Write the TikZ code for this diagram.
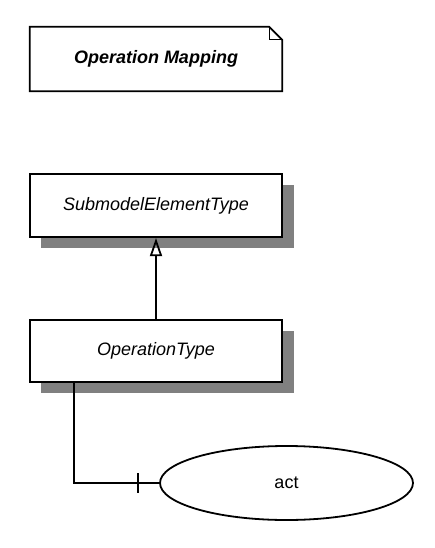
\documentclass[tikz,border=0pt]{standalone}
\usepackage{fontspec}
\setmainfont{Liberation Sans}
\usetikzlibrary{arrows.meta,shapes.geometric,calc}
\begin{document}
\begin{tikzpicture}[x=1pt,y=-1pt,
  cls/.style={draw=black,line width=2.2pt,fill=white,minimum width=252pt,minimum height=63pt,inner sep=0pt,font=\fontsize{18}{21}\selectfont\itshape},
  conn/.style={draw=black,line width=2.2pt},
  lconn/.style={draw=black,line width=1.8pt}]
\useasboundingbox (0,0) rectangle (435,548);
% note
\node[minimum width=252pt,minimum height=64pt,inner sep=0pt,font=\fontsize{18}{21}\selectfont\bfseries\itshape] (note) at (156,59) {Operation Mapping};
\draw[line width=1.8pt] (note.north west) -- ($(note.north east)+(-13,0)$) -- ($(note.north east)+(0,13)$) -- (note.south east) -- (note.south west) -- cycle;
\draw[line width=1pt] ($(note.north east)+(-13,0)$) -- ($(note.north east)+(-13,13)$) -- ($(note.north east)+(0,13)$);
% shadows
\fill[black!50] (41,185) rectangle (294,248);
\fill[black!50] (41,331) rectangle (294,393);
% classes
\node[cls] (sub) at (156,205.5) {SubmodelElementType};
\node[cls,minimum height=62pt] (op) at (156,351) {OperationType};
% generalization
\draw[conn,-{Triangle[open,length=18pt,width=12pt,line width=1.8pt]}] (op.north) -- (sub.south);
% ellipse
\node[ellipse,draw=black,line width=1.8pt,minimum width=253pt,minimum height=74pt,inner sep=0pt,font=\fontsize{18}{21}\selectfont] (act) at (286.5,483) {act};
\coordinate (start) at (74,382);
\draw[lconn] (start) |- (act.west);
\draw[line width=1.5pt] ($(act.west)+(-21,-10)$) -- ($(act.west)+(-21,10)$);
\end{tikzpicture}
\end{document}
